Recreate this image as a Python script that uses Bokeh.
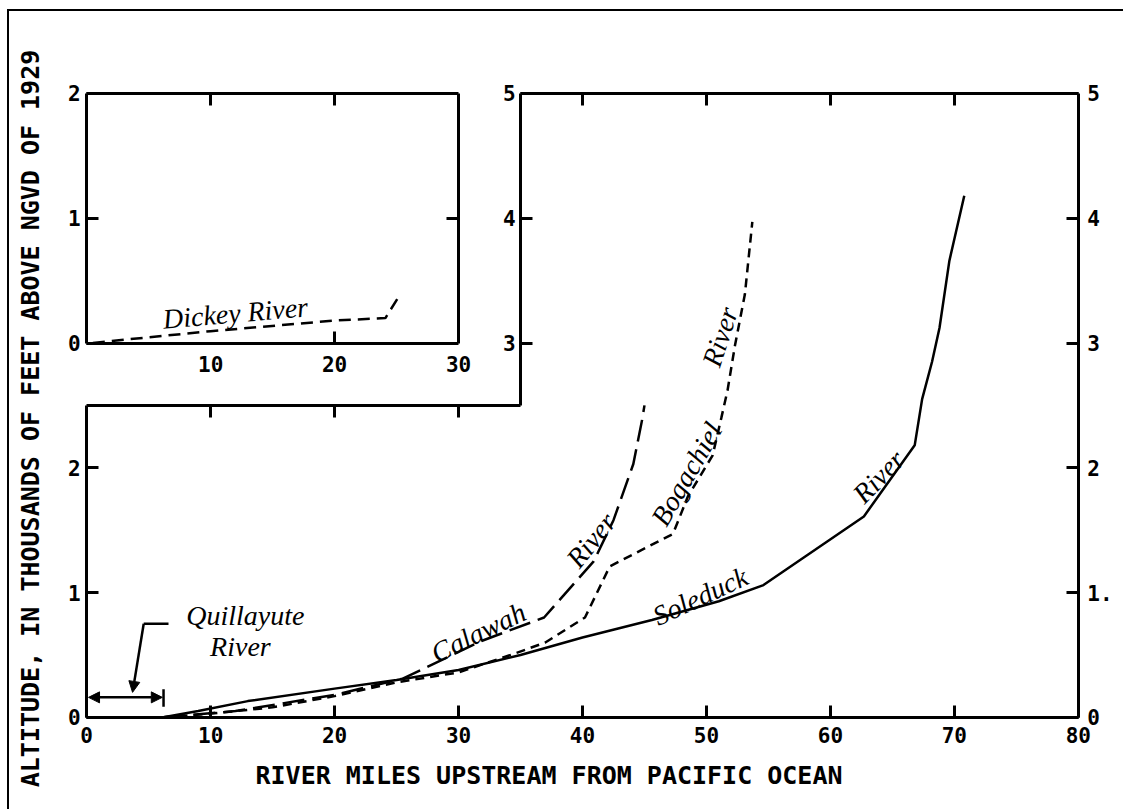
from bokeh.plotting import figure
from bokeh.models import (LinearAxis, FixedTicker, Range1d, ColumnDataSource,
                          Arrow, NormalHead, CustomJSTickFormatter, Title)
from bokeh.core.properties import value
from bokeh.embed import file_html
from bokeh.resources import INLINE

# ---------------- data (river miles, thousands of feet) ----------------
quillayute_x = [0.0, 6.2]
quillayute_y = [0.0, 0.0]

soleduck_x = [6.2, 9.0, 13.0, 20.0, 25.0, 30.0, 35.0, 40.0, 45.6, 51.0, 54.6,
              62.7, 66.8, 67.4, 68.2, 68.8, 69.6, 70.8]
soleduck_y = [0.0, 0.05, 0.13, 0.23, 0.30, 0.38, 0.50, 0.64, 0.78, 0.93, 1.06,
              1.61, 2.18, 2.55, 2.85, 3.12, 3.66, 4.18]

bogachiel_x = [6.2, 10.0, 15.0, 20.0, 25.0, 30.0, 34.5, 37.0, 40.2, 42.2, 47.3,
               48.5, 50.5, 51.2, 51.7, 52.3, 53.1, 53.7]
bogachiel_y = [0.0, 0.03, 0.08, 0.17, 0.28, 0.36, 0.51, 0.60, 0.80, 1.21, 1.47,
               1.77, 2.10, 2.40, 2.62, 2.98, 3.39, 3.97]

calawah_x = [6.2, 12.0, 20.0, 25.5, 31.8, 36.9, 40.9, 42.5, 44.1, 44.8, 45.0]
calawah_y = [0.0, 0.05, 0.18, 0.31, 0.61, 0.80, 1.25, 1.58, 2.03, 2.38, 2.50]

dickey_x = [0.5, 3.4, 10.0, 20.0, 24.1, 25.1]
dickey_y = [0.0, 0.03, 0.095, 0.18, 0.20, 0.36]

x_ticks = [0, 10, 20, 30, 40, 50, 60, 70, 80]
left_ticks = [0, 1, 2]
right_ticks = [0, 1, 2, 3, 4, 5]
right_labels = {1: "1."}
notch_ticks = [3, 4, 5]
inset_x_ticks = [10, 20, 30]
inset_y_ticks = [0, 1, 2]

x_title = "RIVER MILES UPSTREAM FROM PACIFIC OCEAN"
y_title = "ALTITUDE, IN THOUSANDS OF FEET ABOVE NGVD OF 1929"

# river name labels
label_text = ["Quillayute", "River", "Calawah", "River", "Bogachiel", "River",
              "Soleduck", "River"]
label_x = [12.8, 12.4, 31.6, 40.7, 48.4, 51.1, 49.5, 63.9]
label_y = [0.815, 0.565, 0.68, 1.42, 1.95, 3.05, 0.97, 1.93]
label_angle = [0, 0, 26, 51, 60, 72, 25, 46]

inset_label_text = ["Dickey River"]
inset_label_x = [12.0]
inset_label_y = [0.24]
inset_label_angle = [5]

# ---------------- figure ----------------
X_NOTCH, Y_NOTCH = 35, 2.5
MONO = "DejaVu Sans Mono"
LW = 3

p = figure(width=1116, height=800, x_range=Range1d(-3, 83), y_range=Range1d(-0.33, 5.12),
           x_axis_type=None, y_axis_type=None, toolbar_location=None,
           output_backend="svg",
           min_border_left=40, min_border_right=10, min_border_top=67,
           min_border_bottom=53)
p.extra_y_ranges = {"inset": Range1d(-3.33, 2.12)}
p.outline_line_color = None
p.background_fill_color = "white"
p.border_fill_color = "white"
p.styles = {"margin-left": "7px", "margin-top": "9px",
            "border-left": "2px solid black", "border-top": "2px solid black"}

blank = CustomJSTickFormatter(code="return ''")


def style(ax, labels=True, tick_in=12):
    ax.axis_line_width = LW
    ax.axis_line_color = "black"
    ax.major_tick_line_width = LW
    ax.minor_tick_line_width = LW
    ax.major_tick_in = tick_in
    ax.major_tick_out = 0
    ax.minor_tick_in = 0
    ax.minor_tick_out = 0
    ax.major_label_text_font = MONO
    ax.major_label_text_font_style = "bold"
    ax.major_label_text_font_size = "21px"
    ax.major_label_text_color = "black"
    ax.axis_label_text_font = MONO
    ax.axis_label_text_font_style = "bold"
    ax.axis_label_text_font_size = "25px"
    ax.axis_label_text_color = "black"
    if not labels:
        ax.formatter = blank
    return ax


# x-axis title (below the frame, offset to match the original placement)
p.add_layout(Title(text=x_title, align="left", offset=206, standoff=0,
                   text_font=MONO, text_font_style="bold", text_font_size="25px",
                   text_color="black"), "below")

# y-axis title (title-only axis in the left panel)
yt = style(LinearAxis(ticker=FixedTicker(ticks=[]), axis_label=y_title))
yt.axis_line_color = None
yt.major_label_standoff = 0
yt.axis_label_standoff = 5
p.add_layout(yt, "left")

# main frame (L-shaped)
bottom_main = style(LinearAxis(ticker=FixedTicker(ticks=x_ticks), bounds=(0, 80),
                               fixed_location=0))
bottom_main.major_label_standoff = 10
p.add_layout(bottom_main, "below")

left_main = style(LinearAxis(ticker=FixedTicker(ticks=left_ticks), bounds=(0, Y_NOTCH),
                             fixed_location=0))
left_main.major_label_standoff = 6
p.add_layout(left_main, "left")

right_main = style(LinearAxis(ticker=FixedTicker(ticks=right_ticks), bounds=(0, 5),
                              major_label_overrides=right_labels, fixed_location=80))
right_main.major_label_standoff = 9
p.add_layout(right_main, "right")

top_left = style(LinearAxis(ticker=FixedTicker(ticks=[10, 20, 30]), bounds=(0, X_NOTCH),
                            fixed_location=Y_NOTCH), labels=False)
p.add_layout(top_left, "above")

notch = style(LinearAxis(ticker=FixedTicker(ticks=notch_ticks), bounds=(Y_NOTCH, 5),
                         fixed_location=X_NOTCH))
notch.major_label_standoff = 5
p.add_layout(notch, "left")

top_main = style(LinearAxis(ticker=FixedTicker(ticks=[40, 50, 60, 70]), bounds=(X_NOTCH, 80),
                            fixed_location=5), labels=False)
p.add_layout(top_main, "above")

# inset frame
inset_left = style(LinearAxis(y_range_name="inset", ticker=FixedTicker(ticks=inset_y_ticks),
                              bounds=(0, 2), fixed_location=0))
inset_left.major_label_standoff = 6
p.add_layout(inset_left, "left")

inset_bottom = style(LinearAxis(ticker=FixedTicker(ticks=inset_x_ticks, minor_ticks=[20]),
                                bounds=(0, 30), fixed_location=3), tick_in=0)
inset_bottom.minor_tick_in = 12
inset_bottom.major_label_standoff = 13
p.add_layout(inset_bottom, "below")

inset_top = style(LinearAxis(ticker=FixedTicker(ticks=[10, 20]), bounds=(0, 30),
                             fixed_location=5), labels=False)
p.add_layout(inset_top, "above")

inset_right = style(LinearAxis(y_range_name="inset", ticker=FixedTicker(ticks=[1]),
                               bounds=(0, 2), fixed_location=30), labels=False)
p.add_layout(inset_right, "right")

# ---------------- river profiles ----------------
p.line(quillayute_x, quillayute_y, line_width=2.5, color="black")
p.line(soleduck_x, soleduck_y, line_width=2.5, color="black")
p.line(bogachiel_x, bogachiel_y, line_width=2.5, color="black", line_dash="9 6")
p.line(calawah_x, calawah_y, line_width=2.5, color="black", line_dash="22 8")
p.line(dickey_x, dickey_y, line_width=2.5, color="black", line_dash="12 7",
       y_range_name="inset")

# Quillayute reach marker
head = dict(size=11, fill_color="black", line_color="black", line_width=1)
p.add_layout(Arrow(x_start=0.15, y_start=0.16, x_end=6.1, y_end=0.16,
                   start=NormalHead(**head), end=NormalHead(**head),
                   line_width=2.5, line_color="black"))
p.segment(x0=[6.2], y0=[0.085], x1=[6.2], y1=[0.225], line_width=2.5, color="black")
p.line([6.6, 4.6], [0.75, 0.75], line_width=2.5, color="black")
p.add_layout(Arrow(x_start=4.6, y_start=0.75, x_end=3.7, y_end=0.2,
                   start=None, end=NormalHead(**head), line_width=2.5, line_color="black"))

# ---------------- labels ----------------
src = ColumnDataSource(dict(x=label_x, y=label_y, text=label_text, angle=label_angle))
p.text(x="x", y="y", text="text", angle="angle", angle_units="deg", source=src,
       text_font=value("Liberation Serif"), text_font_style="italic",
       text_font_size="28px", text_align="center", text_baseline="middle",
       text_color="black")
isrc = ColumnDataSource(dict(x=inset_label_x, y=inset_label_y, text=inset_label_text,
                             angle=inset_label_angle))
p.text(x="x", y="y", text="text", angle="angle", angle_units="deg", source=isrc,
       y_range_name="inset",
       text_font=value("Liberation Serif"), text_font_style="italic",
       text_font_size="28px", text_align="center", text_baseline="middle",
       text_color="black")

open("out.html", "w").write(file_html(p, INLINE))
